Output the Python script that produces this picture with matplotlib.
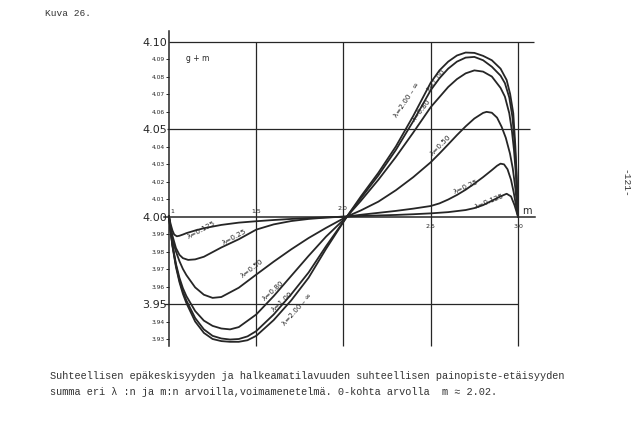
import matplotlib
matplotlib.use("Agg")
import matplotlib.pyplot as plt

# ---- curve data (m, g+m) ----
m_0125 = [1.00, 1.01, 1.02, 1.03, 1.045, 1.06, 1.08, 1.10, 1.15, 1.20, 1.30, 1.40, 1.50, 1.60, 1.70,
          1.80, 1.90, 2.02, 2.10, 2.20, 2.30, 2.40, 2.50, 2.60, 2.70, 2.75, 2.80, 2.85, 2.90, 2.935,
          2.96, 2.98, 3.00]
g_0125 = [4.0000, 3.9955, 3.9920, 3.9897, 3.9887, 3.9890, 3.9897, 3.9905, 3.9920, 3.9933, 3.9952,
          3.9965, 3.9973, 3.9980, 3.9986, 3.9991, 3.9995, 4.0000, 4.0003, 4.0006, 4.0009, 4.0013,
          4.0018, 4.0025, 4.0037, 4.0048, 4.0065, 4.0090, 4.0115, 4.0130, 4.0115, 4.0065, 4.0000]

m_025 = [1.00, 1.01, 1.02, 1.04, 1.06, 1.08, 1.11, 1.15, 1.20, 1.30, 1.40, 1.50, 1.60, 1.70, 1.80,
         1.90, 2.02, 2.10, 2.20, 2.30, 2.40, 2.50, 2.55, 2.60, 2.65, 2.70, 2.75, 2.80, 2.85, 2.88,
         2.90, 2.92, 2.94, 2.96, 2.975, 2.99, 3.00]
g_025 = [4.0000, 3.9940, 3.9890, 3.9820, 3.9781, 3.9762, 3.9752, 3.9755, 3.9770, 3.9823, 3.9870,
         3.9925, 3.9955, 3.9974, 3.9986, 3.9994, 4.0000, 4.0010, 4.0021, 4.0032, 4.0045, 4.0060,
         4.0075, 4.0097, 4.0123, 4.0153, 4.0188, 4.0225, 4.0265, 4.0290, 4.0302, 4.0298, 4.0270,
         4.0210, 4.0140, 4.0055, 4.0000]

m_050 = [1.00, 1.01, 1.02, 1.04, 1.06, 1.08, 1.10, 1.15, 1.20, 1.25, 1.30, 1.40, 1.50, 1.60, 1.70,
         1.80, 1.90, 2.02, 2.10, 2.20, 2.30, 2.40, 2.50, 2.55, 2.60, 2.65, 2.70, 2.75, 2.80, 2.82,
         2.85, 2.88, 2.906, 2.93, 2.954, 2.97, 2.985, 3.00]
g_050 = [4.0000, 3.9925, 3.9865, 3.9800, 3.9745, 3.9700, 3.9665, 3.9595, 3.9553, 3.9535, 3.9540,
         3.9593, 3.9668, 3.9742, 3.9812, 3.9877, 3.9935, 4.0000, 4.0035, 4.0085, 4.0150, 4.0225,
         4.0310, 4.0360, 4.0412, 4.0465, 4.0515, 4.0560, 4.0592, 4.0598, 4.0593, 4.0565, 4.0513,
         4.0450, 4.0360, 4.0275, 4.0160, 4.0000]

m_080 = [1.00, 1.01, 1.02, 1.04, 1.06, 1.08, 1.10, 1.15, 1.20, 1.25, 1.30, 1.35, 1.40, 1.50, 1.60,
         1.70, 1.80, 1.90, 2.02, 2.10, 2.20, 2.30, 2.40, 2.50, 2.60, 2.65, 2.70, 2.75, 2.80, 2.85,
         2.90, 2.925, 2.95, 2.965, 2.977, 2.988, 3.00]
g_080 = [4.0000, 3.9915, 3.9840, 3.9730, 3.9650, 3.9590, 3.9545, 3.9460, 3.9405, 3.9375, 3.9360,
         3.9355, 3.9368, 3.9440, 3.9545, 3.9660, 3.9775, 3.9885, 4.0000, 4.0090, 4.0210, 4.0340,
         4.0480, 4.0625, 4.0740, 4.0785, 4.0818, 4.0835, 4.0828, 4.0800, 4.0735, 4.0685, 4.0590,
         4.0490, 4.0380, 4.0240, 4.0000]

m_100 = [1.00, 1.01, 1.02, 1.04, 1.06, 1.08, 1.10, 1.15, 1.20, 1.25, 1.30, 1.35, 1.40, 1.45, 1.50,
         1.60, 1.70, 1.80, 1.90, 2.02, 2.10, 2.20, 2.30, 2.40, 2.50, 2.55, 2.60, 2.65, 2.70, 2.75,
         2.80, 2.85, 2.90, 2.925, 2.95, 2.968, 2.98, 2.99, 3.00]
g_100 = [4.0000, 3.9912, 3.9835, 3.9720, 3.9635, 3.9570, 3.9520, 3.9420, 3.9355, 3.9318, 3.9303,
         3.9297, 3.9300, 3.9315, 3.9345, 3.9440, 3.9555, 3.9680, 3.9830, 4.0000, 4.0105, 4.0235,
         4.0380, 4.0545, 4.0722, 4.0790, 4.0845, 4.0885, 4.0908, 4.0912, 4.0893, 4.0856, 4.0805,
         4.0762, 4.0680, 4.0570, 4.0430, 4.0260, 4.0000]

m_200 = [1.00, 1.01, 1.02, 1.04, 1.06, 1.08, 1.10, 1.15, 1.20, 1.25, 1.30, 1.35, 1.40, 1.45, 1.50,
         1.60, 1.70, 1.80, 1.90, 2.02, 2.10, 2.20, 2.30, 2.40, 2.50, 2.55, 2.60, 2.65, 2.70, 2.75,
         2.80, 2.85, 2.90, 2.935, 2.955, 2.973, 2.985, 2.993, 3.00]
g_200 = [4.0000, 3.9910, 3.9830, 3.9712, 3.9625, 3.9558, 3.9505, 3.9400, 3.9335, 3.9300, 3.9288,
         3.9284, 3.9284, 3.9293, 3.9318, 3.9408, 3.9520, 3.9650, 3.9815, 4.0000, 4.0115, 4.0250,
         4.0400, 4.0575, 4.0765, 4.0835, 4.0885, 4.0920, 4.0937, 4.0935, 4.0918, 4.0893, 4.0845,
         4.0780, 4.0700, 4.0590, 4.0400, 4.0220, 4.0000]

curves = [(m_0125, g_0125), (m_025, g_025), (m_050, g_050),
          (m_080, g_080), (m_100, g_100), (m_200, g_200)]

# curve labels: text, m, value, angle  (left half and right half)
lab_text = ["λ=0.125", "λ=0.25", "λ=0.50", "λ=0.80", "λ=1.00", "λ=2.00 – ∞"]
lab_left = [(1.185, 3.9925, 28), (1.375, 3.9880, 28), (1.475, 3.9705, 37),
            (1.60, 3.9575, 42), (1.648, 3.9515, 42), (1.735, 3.9470, 48)]
lab_right = [(2.835, 4.0085, 22), (2.70, 4.0172, 24), (2.555, 4.0410, 45),
             (2.448, 4.0605, 52), (2.535, 4.0780, 52), (2.36, 4.0665, 56)]

y_major = [3.95, 4.00, 4.05, 4.10]
y_minor = [3.93, 3.94, 3.96, 3.97, 3.98, 3.99, 4.01, 4.02, 4.03, 4.04, 4.06, 4.07, 4.08, 4.09]
x_grid = [1.5, 2.0, 2.5, 3.0]

ink = "#262626"
mono = ["Liberation Mono", "DejaVu Sans Mono"]

fig = plt.figure(figsize=(6.4, 4.22), dpi=100)
ax = fig.add_axes([0.2231, 0.1552, 0.6408, 0.7879])
ax.set_xlim(0.85, 3.2)
ax.set_ylim(3.92, 4.11)

# axes drawn like the hand-drawn original
for s in ["top", "right"]:
    ax.spines[s].set_visible(False)
ax.spines["left"].set_position(("data", 1.0))
ax.spines["left"].set_bounds(3.926, 4.106)
ax.spines["bottom"].set_position(("data", 4.0))
ax.spines["bottom"].set_bounds(0.97, 3.10)
for s in ["left", "bottom"]:
    ax.spines[s].set_color(ink)
    ax.spines[s].set_linewidth(1.1)
ax.tick_params(axis="x", length=0, labelbottom=False)

ax.set_yticks(y_major, labels=["%.2f" % v for v in y_major])
ax.set_yticks(y_minor, labels=["%.2f" % v for v in y_minor], minor=True)
ax.tick_params(axis="y", which="major", length=0, pad=1.5, labelsize=8, colors=ink)
ax.tick_params(axis="y", which="minor", length=2, width=0.7, pad=1, labelsize=4.3, colors=ink)

# grid lines
ax.hlines(4.10, 1.0, 3.09, color=ink, lw=0.9)
ax.hlines(4.05, 0.99, 3.07, color=ink, lw=0.9)
ax.hlines(3.95, 0.97, 3.0, color=ink, lw=0.9)
ax.vlines(x_grid, 3.926, 4.10, color=ink, lw=0.9)

for mm, gg in curves:
    ax.plot(mm, gg, color=ink, lw=1.3, solid_joinstyle="round")

for t, (xl, yl, r) in zip(lab_text, lab_left):
    ax.text(xl, yl, t, fontsize=5.2, rotation=r, rotation_mode="anchor",
            ha="center", va="center", color=ink)
for t, (xr, yr, r) in zip(lab_text, lab_right):
    ax.text(xr, yr, t, fontsize=5.2, rotation=r, rotation_mode="anchor",
            ha="center", va="center", color=ink)

# x labels
ax.text(1.02, 4.0012, "1", fontsize=4.5, ha="center", va="bottom", color=ink)
ax.text(1.5, 4.0015, "1.5", fontsize=4.5, ha="center", va="bottom", color=ink)
ax.text(1.995, 4.0030, "2.0", fontsize=4.5, ha="center", va="bottom", color=ink)
ax.text(2.5, 3.9960, "2.5", fontsize=4.5, ha="center", va="top", color=ink)
ax.text(3.0, 3.9960, "3.0", fontsize=4.5, ha="center", va="top", color=ink)
ax.text(3.05, 4.0005, "m", fontsize=7, ha="center", va="bottom", color=ink)
ax.text(1.165, 4.0905, "g + m", fontsize=5.5, ha="center", va="center", color=ink)

fig.text(45 / 640, 1 - 14 / 422, "Kuva 26.", fontsize=6.8, family=mono,
         ha="left", va="center", color="#333333")
fig.text(50 / 640, 1 - 376 / 422,
         "Suhteellisen epäkeskisyyden ja halkeamatilavuuden suhteellisen painopiste-etäisyyden",
         fontsize=7.4, family=mono, ha="left", va="center", color="#333333")
fig.text(50 / 640, 1 - 392 / 422,
         "summa eri λ :n ja m:n arvoilla,voimamenetelmä. 0-kohta arvolla  m ≈ 2.02.",
         fontsize=7.4, family=mono, ha="left", va="center", color="#333333")
fig.text(625 / 640, 1 - 183 / 422, "-121-", fontsize=6.8, family=mono, rotation=270,
         ha="center", va="center", color="#333333")

fig.savefig("out.png", dpi=100, facecolor="white")
